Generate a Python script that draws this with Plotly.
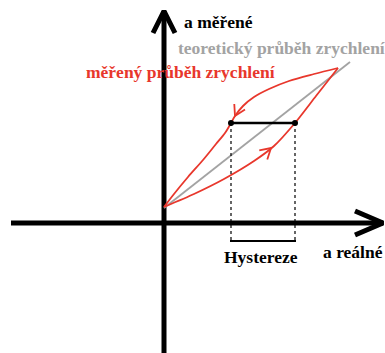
import numpy as np
import plotly.graph_objects as go

# --- data (diagram coordinates; origin at axis crossing, y up) ---
upper_x = [174, 150, 125, 105, 90, 79, 71, 67, 61, 52, 39, 24, 10, 0]
upper_y = [155, 149, 142, 134, 126, 117, 107, 100, 90, 79, 63, 46, 29, 16]
lower_x = [0, 30, 60, 90, 110, 131, 152, 174]
lower_y = [16, 29, 44, 62, 77, 100, 127, 155]
theory_x = [0, 186]
theory_y = [15, 161]
hyst_x = [67, 131]
hyst_y = [100, 100]
hyst_bottom = -18
xaxis_x = [-153, 219]
yaxis_y = [-130, 212]
arrow_tips = [(71, 107), (107, 75)]
arrow_dirs = [(-8, -16), (20, 18)]

RED = "#e8372c"
GRAY = "#a3a3a3"
FONT = "Liberation Serif"
FS = 17.5

fig = go.Figure()

# axes with arrows
fig.add_trace(go.Scatter(x=xaxis_x, y=[0, 0], mode="lines",
                         line=dict(color="black", width=5), hoverinfo="skip"))
fig.add_trace(go.Scatter(x=[0, 0], y=yaxis_y, mode="lines",
                         line=dict(color="black", width=5), hoverinfo="skip"))
tx = xaxis_x[1]
fig.add_trace(go.Scatter(x=[tx - 28, tx, tx - 28], y=[12, 0, -12], mode="lines",
                         line=dict(color="black", width=5), hoverinfo="skip"))
ty = yaxis_y[1]
fig.add_trace(go.Scatter(x=[-11, 0, 11], y=[ty - 22, ty, ty - 22], mode="lines",
                         line=dict(color="black", width=5), hoverinfo="skip"))

# theoretical line
fig.add_trace(go.Scatter(x=theory_x, y=theory_y, mode="lines",
                         line=dict(color=GRAY, width=1.8), hoverinfo="skip"))

# measured loop
fig.add_trace(go.Scatter(x=upper_x, y=upper_y, mode="lines",
                         line=dict(color=RED, width=1.8, shape="spline", smoothing=0.9),
                         hoverinfo="skip"))
fig.add_trace(go.Scatter(x=lower_x, y=lower_y, mode="lines",
                         line=dict(color=RED, width=1.8, shape="spline", smoothing=0.6),
                         hoverinfo="skip"))

# red arrowheads
def rot(v, t):
    return np.array([v[0]*np.cos(t) - v[1]*np.sin(t), v[0]*np.sin(t) + v[1]*np.cos(t)])

for (px, py), (dx, dy) in zip(arrow_tips, arrow_dirs):
    d = np.array([-dx, -dy], dtype=float)
    d /= np.linalg.norm(d)
    L, a = 12, np.radians(30)
    p1 = np.array([px, py]) + L * rot(d, a)
    p2 = np.array([px, py]) + L * rot(d, -a)
    fig.add_trace(go.Scatter(x=[p1[0], px, p2[0]], y=[p1[1], py, p2[1]], mode="lines",
                             line=dict(color=RED, width=1.8), hoverinfo="skip"))

# hysteresis segment
for xv in hyst_x:
    fig.add_trace(go.Scatter(x=[xv, xv], y=[hyst_y[0], hyst_bottom], mode="lines",
                             line=dict(color="black", width=1.2, dash="dot"), hoverinfo="skip"))
fig.add_trace(go.Scatter(x=[hyst_x[0] - 1, hyst_x[1] + 1], y=[hyst_bottom, hyst_bottom], mode="lines",
                         line=dict(color="black", width=2), hoverinfo="skip"))
fig.add_trace(go.Scatter(x=hyst_x, y=hyst_y, mode="lines+markers",
                         line=dict(color="black", width=2.5),
                         marker=dict(color="black", size=6), hoverinfo="skip"))

def label(text, x, y, color, anchor="left"):
    fig.add_annotation(x=x, y=y, text="<b>" + text + "</b>", showarrow=False,
                       xanchor=anchor, yanchor="middle",
                       font=dict(family=FONT, size=FS, color=color))

label("a měřené", 18, 201, "black")
label("teoretický průběh zrychlení", 12, 175, GRAY)
label("měřený průběh zrychlení", -80, 151, RED)
label("Hystereze", 97, -34, "black", anchor="center")
label("a reálné", 157, -29, "black")

fig.update_layout(
    width=385, height=353, margin=dict(l=0, r=0, t=0, b=0),
    plot_bgcolor="white", paper_bgcolor="white", showlegend=False,
    xaxis=dict(range=[-164, 221], visible=False, fixedrange=True),
    yaxis=dict(range=[-130, 223], visible=False, fixedrange=True),
)
fig.write_html("out.html", config={"displayModeBar": False})

with open("out.html", encoding="utf-8") as f:
    html = f.read()
html = html.replace("<head>", "<head><style>html,body{margin:0;padding:0;overflow:hidden;}</style>", 1)
with open("out.html", "w", encoding="utf-8") as f:
    f.write(html)
